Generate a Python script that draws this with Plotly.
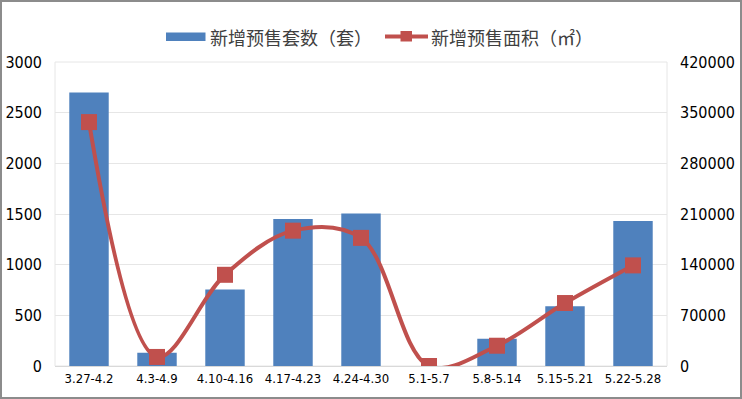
import plotly.graph_objects as go

categories = ["3.27-4.2", "4.3-4.9", "4.10-4.16", "4.17-4.23", "4.24-4.30",
              "5.1-5.7", "5.8-5.14", "5.15-5.21", "5.22-5.28"]
units = [2700, 130, 755, 1450, 1505, 0, 270, 590, 1430]
area = [337000, 12500, 126000, 187000, 177000, 0, 28000, 87000, 139000]
series_names = ["新增预售套数（套）", "新增预售面积（㎡）"]
left_ticks = [0, 500, 1000, 1500, 2000, 2500, 3000]
right_ticks = [0, 70000, 140000, 210000, 280000, 350000, 420000]

NUMFONT = "Liberation Sans Narrow, DejaVu Sans Condensed, sans-serif"
CJK = "Noto Sans CJK SC, sans-serif"
BLUE, RED = "#4F81BD", "#C0504D"

fig = go.Figure()
fig.add_trace(go.Bar(x=categories, y=units, name=series_names[0],
                     marker=dict(color=BLUE, line=dict(width=0)), yaxis="y"))
fig.add_trace(go.Scatter(x=categories, y=area, name=series_names[1], yaxis="y2",
                         mode="lines+markers",
                         line=dict(color=RED, width=4, shape="spline", smoothing=1.0),
                         marker=dict(symbol="square", size=16, color=RED)))

L, R, T, B = 55, 75, 62, 33
W, H = 742, 399
pw, ph = W - L - R, H - T - B

def px(x):
    return (x - L) / pw

def py(y):
    return (H - B - y) / ph

shapes = [
    # plot area outline
    dict(type="rect", xref="paper", yref="paper", x0=0, x1=1, y0=0, y1=1,
         line=dict(color="#E6E6E6", width=1), layer="below"),
    # outer chart border
    dict(type="rect", xref="paper", yref="paper",
         x0=px(1), x1=px(W - 1), y0=py(H - 1), y1=py(1),
         line=dict(color="#8C8C8C", width=2), layer="above"),
    # legend: bar swatch
    dict(type="rect", xref="paper", yref="paper",
         x0=px(166), x1=px(205.5), y0=py(41), y1=py(32.5),
         fillcolor=BLUE, line=dict(width=0)),
    # legend: line swatch
    dict(type="line", xref="paper", yref="paper",
         x0=px(385), x1=px(428), y0=py(36.5), y1=py(36.5),
         line=dict(color=RED, width=4)),
    dict(type="rect", xref="paper", yref="paper",
         x0=px(400.5), x1=px(412), y0=py(41.5), y1=py(31),
         fillcolor=RED, line=dict(width=0)),
]
annotations = [
    dict(text=series_names[0], xref="paper", yref="paper", x=px(208), y=py(37),
         xanchor="left", yanchor="middle", showarrow=False,
         font=dict(family=CJK, size=18, color="#404040")),
    dict(text=series_names[1], xref="paper", yref="paper", x=px(429), y=py(37),
         xanchor="left", yanchor="middle", showarrow=False,
         font=dict(family=CJK, size=18, color="#404040")),
]

fig.update_layout(
    width=W, height=H,
    margin=dict(l=L, r=R, t=T, b=B, autoexpand=False),
    paper_bgcolor="white", plot_bgcolor="white",
    bargap=0.42,
    font=dict(family=NUMFONT, size=14, color="#000000"),
    showlegend=False,
    xaxis=dict(type="category", range=[-0.5, len(categories) - 0.5],
               showgrid=False, showline=True, linecolor="#D9D9D9",
               linewidth=1, ticks="", tickfont=dict(size=13), fixedrange=True),
    yaxis=dict(range=[0, 3000], tickvals=left_ticks, showgrid=True, gridcolor="#E6E6E6",
               gridwidth=1, zeroline=False, showline=False, ticks="",
               ticklabelstandoff=12, tickfont=dict(size=16)),
    yaxis2=dict(range=[0, 420000], tickvals=right_ticks, tickformat="d",
                overlaying="y", side="right",
                showgrid=False, zeroline=False, showline=False, ticks="",
                ticklabelstandoff=12, tickfont=dict(size=16)),
    shapes=shapes,
    annotations=annotations,
)

fig.write_html("out.html", config={"displayModeBar": False},
               post_script="document.body.style.margin='0';")
